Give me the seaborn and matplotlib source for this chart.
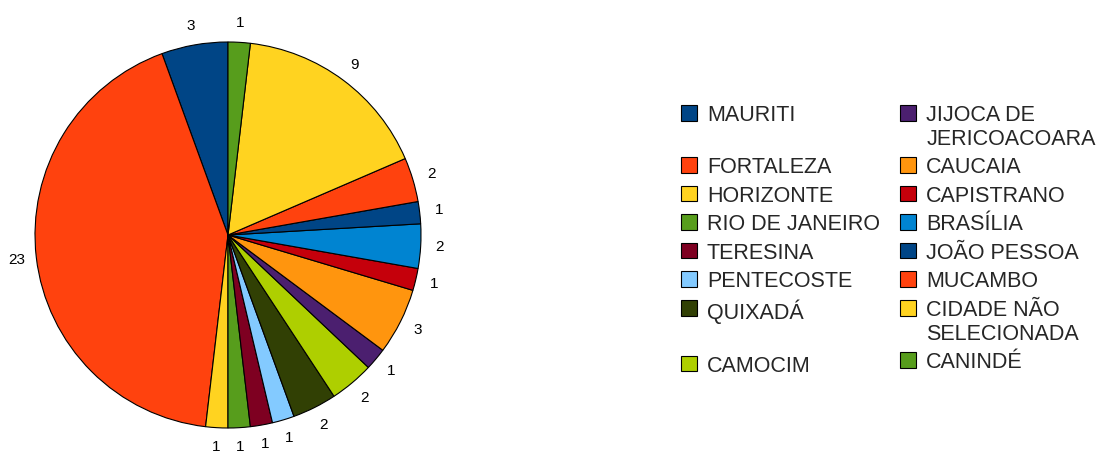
"""
Pie chart of cities with legend (two columns)
"""

import seaborn as sns
import matplotlib.pyplot as plt

# data, in pie order (counter-clockwise from 12 o'clock)
cities = ["MAURITI", "FORTALEZA", "HORIZONTE", "RIO DE JANEIRO", "TERESINA",
          "PENTECOSTE", "QUIXADÁ", "CAMOCIM", "JIJOCA DE JERICOACOARA",
          "CAUCAIA", "CAPISTRANO", "BRASÍLIA", "JOÃO PESSOA", "MUCAMBO",
          "CIDADE NÃO SELECIONADA", "CANINDÉ"]
counts = [3, 23, 1, 1, 1, 1, 2, 2, 1, 3, 1, 2, 1, 2, 9, 1]
legend_labels = ["MAURITI", "FORTALEZA", "HORIZONTE", "RIO DE JANEIRO",
                 "TERESINA", "PENTECOSTE", "QUIXADÁ", "CAMOCIM",
                 "JIJOCA DE\nJERICOACOARA", "CAUCAIA", "CAPISTRANO",
                 "BRASÍLIA", "JOÃO PESSOA", "MUCAMBO",
                 "CIDADE NÃO\nSELECIONADA", "CANINDÉ"]
colors = ["#004586", "#ff420e", "#ffd320", "#579d1c", "#7e0021", "#83caff",
          "#314004", "#aecf00", "#4b1f6f", "#ff950e", "#c5000b", "#0084d1",
          "#004586", "#ff420e", "#ffd320", "#579d1c"]


def main():
    sns.set_style("white")
    plt.rcParams["font.family"] = ["Liberation Sans", "DejaVu Sans"]

    fig = plt.figure(figsize=(11.03, 4.54), dpi=100)
    ax = fig.add_axes([-13.25 / 1103, -22.25 / 454, 482.5 / 1103, 482.5 / 454])

    total = sum(counts)
    palette = sns.color_palette(colors)
    wedges, _, _ = ax.pie(
        counts, colors=palette, startangle=90, counterclock=True,
        wedgeprops=dict(edgecolor="black", linewidth=0.8),
        autopct=lambda p: f"{p * total / 100:.0f}", pctdistance=1.1,
        textprops=dict(fontsize=11, color="black"))
    ax.set_xlim(-1.25, 1.25)
    ax.set_ylim(-1.25, 1.25)

    # pad rows so both columns line up
    half = len(legend_labels) // 2
    labels = list(legend_labels)
    for i in range(half):
        a, b = labels[i], labels[i + half]
        n = max(a.count("\n"), b.count("\n"))
        labels[i] = a + "\n" * (n - a.count("\n"))
        labels[i + half] = b + "\n" * (n - b.count("\n"))

    leg = fig.legend(wedges, labels, ncol=2, loc="upper left",
                     bbox_to_anchor=(681 / 1103, 1 - 105 / 454),
                     bbox_transform=fig.transFigure, frameon=False,
                     fontsize=15.5, borderpad=0, borderaxespad=0,
                     handlelength=0.74, handleheight=0.74,
                     handletextpad=0.46, columnspacing=0.95,
                     labelspacing=0.35)
    for t in leg.get_texts():
        t.set_linespacing(1.17)
    for col in leg._legend_handle_box.get_children():
        for row in col.get_children():
            row.align = "top"

    fig.savefig("out.png", dpi=100)


if __name__ == "__main__":
    main()
